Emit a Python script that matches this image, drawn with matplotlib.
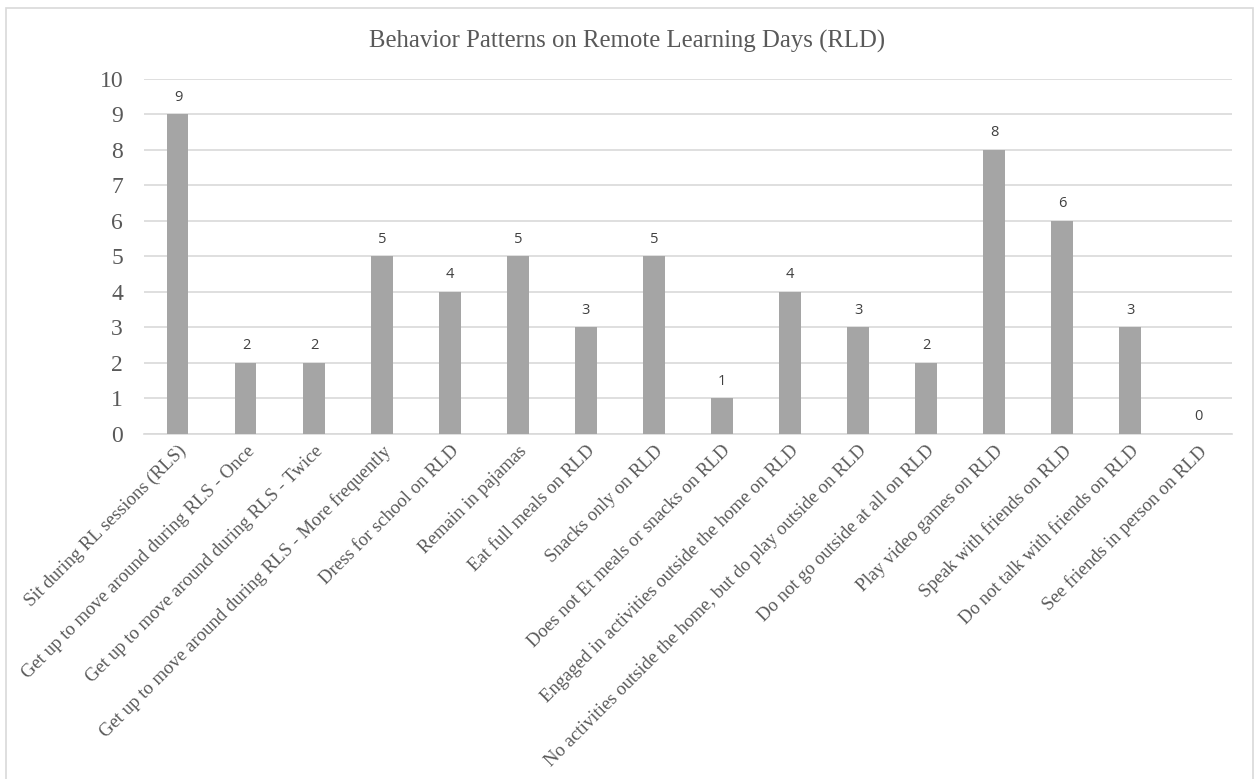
import matplotlib.pyplot as plt
from matplotlib.patches import Rectangle

# Categories and counts
categories = [
    'Sit during RL sessions (RLS)',
    'Get up to move around during RLS - Once',
    'Get up to move around during RLS - Twice',
    'Get up to move around during RLS - More frequently',
    'Dress for school on RLD',
    'Remain in pajamas',
    'Eat full meals on RLD',
    'Snacks only on RLD',
    'Does not Et meals or snacks on RLD',
    'Engaged in activities outside the home on RLD',
    'No activities outside the home, but do play outside on RLD',
    'Do not go outside at all on RLD',
    'Play video games on RLD',
    'Speak with friends on RLD',
    'Do not talk with friends on RLD',
    'See friends in person on RLD',
]
counts = [9, 2, 2, 5, 4, 5, 3, 5, 1, 4, 3, 2, 8, 6, 3, 0]
y_ticks = list(range(0, 11))

text_grey = '#595959'
grid_grey = '#D9D9D9'

fig = plt.figure(figsize=(12.55, 7.79), dpi=100)
ax = fig.add_axes([0.1147, 0.4429, 0.867, 0.4557])

# Chart border like the spreadsheet chart frame
fig.patches.append(Rectangle((6 / 1255, -0.01), 1247 / 1255, 1 - 8 / 779 + 0.01,
                             transform=fig.transFigure, fill=False,
                             edgecolor=grid_grey, linewidth=1.2))

x = range(len(categories))
bars = ax.bar(x, counts, width=0.31, color='#A5A5A5', zorder=3)

for xi, v in zip(x, counts):
    ax.annotate(str(v), (xi, v), xytext=(0, 7), textcoords='offset points',
                ha='center', va='bottom', fontsize=10.5, color='#404040',
                family='Open Sans')

ax.set_xlim(-0.5, len(categories) - 0.5)
ax.set_ylim(0, 10)
ax.set_yticks(y_ticks)
ax.set_yticklabels([str(t) for t in y_ticks], family='Liberation Serif',
                   fontsize=17, color=text_grey)
ax.tick_params(axis='y', length=0, pad=15)
ax.tick_params(axis='x', length=0, pad=6)
ax.set_xticks(list(x))
ax.set_xticklabels(categories, rotation=45, ha='right', va='top',
                   rotation_mode='anchor', family='Liberation Serif',
                   fontsize=13.5, color=text_grey)

ax.grid(axis='y', color=grid_grey, linewidth=1.2, zorder=0)
for side in ['top', 'right', 'left']:
    ax.spines[side].set_visible(False)
ax.spines['bottom'].set_color(grid_grey)
ax.spines['bottom'].set_linewidth(1.2)

fig.text(0.5, 1 - 41 / 779, 'Behavior Patterns on Remote Learning Days (RLD)',
         ha='center', va='center', family='Liberation Serif', fontsize=17.8,
         color=text_grey)

fig.savefig('out.png', dpi=100)
